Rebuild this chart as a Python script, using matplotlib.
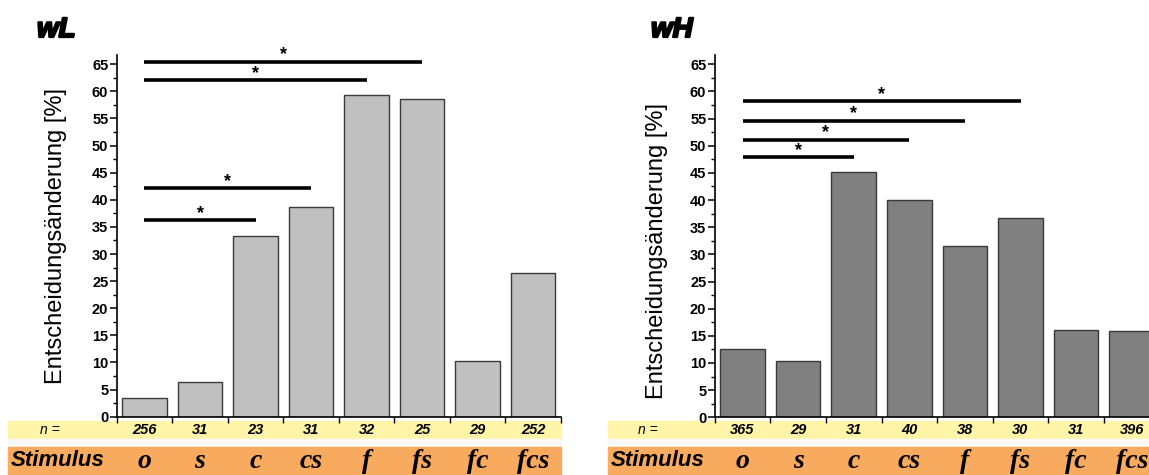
import matplotlib.pyplot as plt
import matplotlib.patheffects as pe
from matplotlib.patches import Rectangle
from matplotlib.transforms import blended_transform_factory
from matplotlib.ticker import MultipleLocator

stimuli = ['o', 's', 'c', 'cs', 'f', 'fs', 'fc', 'fcs']

wl_values = [3.5, 6.4, 33.3, 38.7, 59.3, 58.6, 10.3, 26.5]
wl_n = ['256', '31', '23', '31', '32', '25', '29', '252']
wl_sig = [(0, 2, 36.2), (0, 3, 42.2), (0, 4, 62.1), (0, 5, 65.5)]

wh_values = [12.6, 10.3, 45.1, 40.0, 31.6, 36.6, 16.0, 15.9]
wh_n = ['365', '29', '31', '40', '38', '30', '31', '396']
wh_sig = [(0, 2, 47.9), (0, 3, 51.1), (0, 4, 54.6), (0, 5, 58.2)]

W, H = 1149, 475
fig = plt.figure(figsize=(W / 100, H / 100), dpi=100)
plt.rcParams['font.family'] = ['Liberation Sans', 'DejaVu Sans']


def px(x0, y0, x1, y1):
    # pixel box (top-left origin) -> figure fraction rect
    return [x0 / W, 1 - y1 / H, (x1 - x0) / W, (y1 - y0) / H]


def panel(rect, values, nvals, sig, color, title, title_x, band_x0, band_x1, label_xy):
    ax = fig.add_axes(px(*rect))
    x = list(range(len(values)))
    ax.bar(x, values, width=0.8, color=color, edgecolor='#3a3a3a', linewidth=1.0, zorder=2)
    ax.set_xlim(-0.5, len(values) - 0.5)
    ax.set_ylim(0, 66.7)
    for s in ['top', 'right']:
        ax.spines[s].set_visible(False)
    for s in ['left', 'bottom']:
        ax.spines[s].set_linewidth(1.2)
        ax.spines[s].set_zorder(3)
    ax.yaxis.set_major_locator(MultipleLocator(5))
    ax.yaxis.set_minor_locator(MultipleLocator(2.5))
    ax.set_xticks([i - 0.5 for i in range(len(values) + 1)])
    ax.set_xticklabels([])
    ax.tick_params(axis='x', direction='out', length=4, width=1)
    ax.tick_params(axis='y', which='major', length=5, width=1.1, pad=1, labelsize=10.5)
    ax.tick_params(axis='y', which='minor', length=3, width=1)
    for t in ax.get_yticklabels():
        t.set_fontweight('bold')
    ax.set_ylabel('Entscheidungsänderung [%]', fontsize=17)
    ax.yaxis.set_label_coords(*label_xy)

    # significance bars
    for a, b, y in sig:
        ax.plot([a, b], [y, y], color='black', lw=2.6, solid_capstyle='butt', clip_on=False, zorder=4)
        ax.text((a + b) / 2, y + 0.4, '*', ha='center', va='baseline', fontsize=13,
                fontweight='bold', clip_on=False)

    # n row and stimulus row
    tr = blended_transform_factory(ax.transData, fig.transFigure)
    fig.patches.append(Rectangle((band_x0 / W, 1 - 438.7 / H), (band_x1 - band_x0) / W, 18 / H,
                                 transform=fig.transFigure, color='#fff4a8', zorder=-2))
    fig.patches.append(Rectangle((band_x0 / W, 1 - 446.7 / H), (band_x1 - band_x0) / W, 8 / H,
                                 transform=fig.transFigure, color='#f8f8f6', zorder=-2))
    fig.patches.append(Rectangle((band_x0 / W, 0), (band_x1 - band_x0) / W, 28.3 / H,
                                 transform=fig.transFigure, color='#f8aa5e', zorder=-2))
    y_n = 1 - 430 / H
    ax.text(-1.7, y_n, 'n =', transform=tr, ha='center', va='center', fontsize=10, style='italic')
    for i, n in enumerate(nvals):
        ax.text(i, y_n, n, transform=tr, ha='center', va='center', fontsize=10.5,
                style='italic', fontweight='bold', clip_on=False)
    y_s = 1 - 461 / H
    fig.text((band_x0 + 3) / W, y_s, 'Stimulus', ha='left', va='center', fontsize=16,
             style='italic', fontweight='bold')
    for i, s in enumerate(stimuli):
        ax.text(i, y_s, s, transform=tr, ha='center', va='center', fontsize=20,
                style='italic', fontweight='bold', family=['Liberation Serif', 'DejaVu Serif'],
                clip_on=False)

    fig.text(title_x / W, 1 - 30 / H, title, ha='left', va='center', fontsize=20,
             style='italic', fontweight='bold',
             path_effects=[pe.withStroke(linewidth=1.6, foreground='black')])
    return ax


panel((116.7, 55, 561, 416.7), wl_values, wl_n, wl_sig, '#c0c0c0', 'wL', 37, 8, 561, (-0.112, 0.50))
panel((714.7, 55, 1159.5, 417.3), wh_values, wh_n, wh_sig, '#808080', 'wH', 651, 608, 1160, (-0.105, 0.46))

fig.savefig('out.png', dpi=100)
